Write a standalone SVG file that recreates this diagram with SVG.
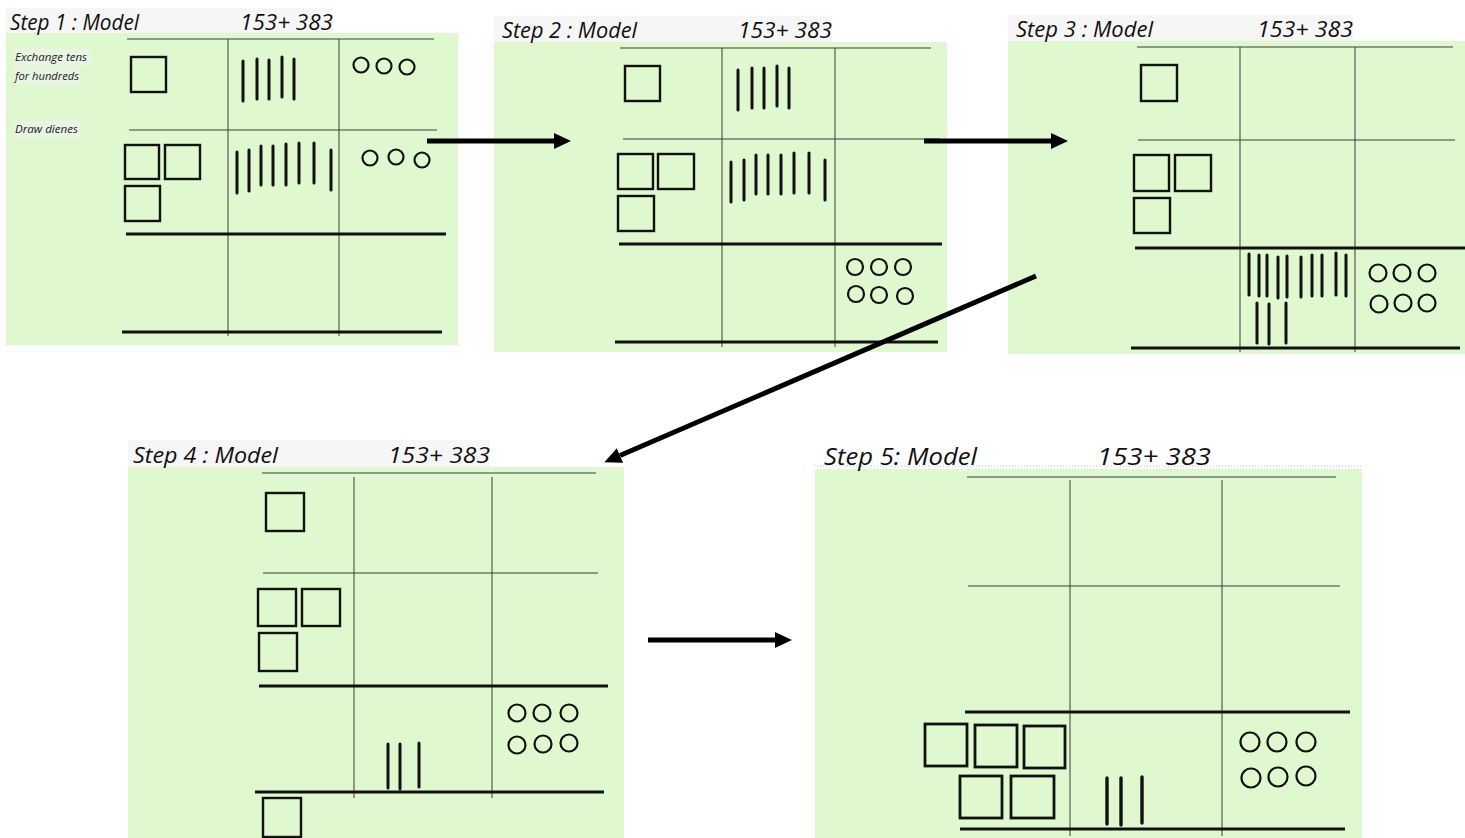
<svg xmlns="http://www.w3.org/2000/svg" width="1465" height="838" viewBox="0 0 1465 838">
<style>
.page{fill:#ffffff}
.bg{fill:#dff8d0}
.strip{fill:#f6f6f6}
.thin{stroke:#3c3c3c;stroke-width:1;fill:none}
.thick{stroke:#111;stroke-width:3;fill:none}
.sq{fill:none;stroke:#111;stroke-width:2.4}
.ten{stroke:#111;stroke-width:3;stroke-linecap:round;fill:none}
.one{fill:none;stroke:#111;stroke-width:2.2}
.title{font-family:"Open Sans","Noto Sans",sans-serif;font-style:italic;font-size:21px;fill:#111}
.title5{font-family:"Open Sans","Noto Sans",sans-serif;font-style:italic;font-weight:500;font-size:24px;fill:#111}
.note{font-family:"Open Sans","Noto Sans",sans-serif;font-style:italic;font-size:10.5px;fill:#222}
.notebg{fill:#e9f4e2}
.arrow{stroke:#000;stroke-width:5;fill:none}
</style>
<defs>
<marker id="head" markerUnits="userSpaceOnUse" markerWidth="18" markerHeight="17" refX="0" refY="8" orient="auto">
<path d="M0,0 L17,8 L0,16 z" fill="#000"/>
</marker>
</defs>
<rect class="page" x="0" y="0" width="1465" height="838"/>

<g id="step1">
<rect class="bg" x="6" y="33" width="452" height="312"/>
<rect class="strip" x="6" y="8" width="327" height="25"/>
<text class="title" x="10" y="30" textLength="129" lengthAdjust="spacingAndGlyphs">Step 1 : Model</text>
<text class="title" x="240" y="30" textLength="93" lengthAdjust="spacingAndGlyphs">153+ 383</text>
<rect class="notebg" x="14" y="49" width="77" height="17"/>
<rect class="notebg" x="14" y="68" width="66" height="17"/>
<rect class="notebg" x="14" y="121" width="66" height="17"/>
<text class="note" x="15" y="61" textLength="72" lengthAdjust="spacingAndGlyphs">Exchange tens</text>
<text class="note" x="15" y="80" textLength="64" lengthAdjust="spacingAndGlyphs">for hundreds</text>
<text class="note" x="15" y="133" textLength="63" lengthAdjust="spacingAndGlyphs">Draw dienes</text>
<path class="thin" d="M127,39H434M129,130H437M228,39V336M339,39V336"/>
<path class="thick" d="M126,234H446M122,332H442"/>
<rect class="sq" x="131" y="57" width="35" height="35"/>
<path class="ten" d="M243,61V101M257,59V99M269,60V99M282,57V97M294,59V99"/>
<circle class="one" cx="361" cy="65" r="7.5"/><circle class="one" cx="384" cy="66" r="7.5"/><circle class="one" cx="407" cy="67" r="7.5"/>
<rect class="sq" x="125" y="145" width="34" height="34"/>
<rect class="sq" x="165" y="145" width="35" height="34"/>
<rect class="sq" x="125" y="186" width="35" height="35"/>
<path class="ten" d="M237,152V193M249,150V191M261,146V185M273,146V185M286,144V185M299,143V183M314,143V183M331,150V190"/>
<circle class="one" cx="370" cy="158" r="7.5"/><circle class="one" cx="396" cy="157" r="7.5"/><circle class="one" cx="422" cy="160" r="7.5"/>
</g>

<g id="step2">
<rect class="bg" x="494" y="42" width="453" height="310"/>
<rect class="strip" x="494" y="16" width="338" height="26"/>
<text class="title" x="502" y="38" textLength="135" lengthAdjust="spacingAndGlyphs">Step 2 : Model</text>
<text class="title" x="738" y="38" textLength="94" lengthAdjust="spacingAndGlyphs">153+ 383</text>
<path class="thin" d="M620,48H931M623,139H940M722,48V347M835,48V347"/>
<path class="thick" d="M619,244H942M615,342H938"/>
<rect class="sq" x="625" y="66" width="35" height="35"/>
<path class="ten" d="M738,70V110M752,68V108M764,68V108M777,66V106M789,68V108"/>
<rect class="sq" x="618" y="154" width="35" height="35"/>
<rect class="sq" x="658" y="154" width="36" height="35"/>
<rect class="sq" x="618" y="196" width="36" height="35"/>
<path class="ten" d="M731,162V202M744,160V200M756,155V194M768,155V194M781,155V194M794,153V193M809,153V193M825,160V200"/>
<circle class="one" cx="855" cy="267" r="8"/><circle class="one" cx="879" cy="267" r="8"/><circle class="one" cx="903" cy="267" r="8"/>
<circle class="one" cx="856" cy="294" r="8"/><circle class="one" cx="879" cy="295" r="8"/><circle class="one" cx="905" cy="296" r="8"/>
</g>

<g id="step3">
<rect class="bg" x="1008" y="41" width="457" height="313"/>
<rect class="strip" x="1008" y="15" width="345" height="26"/>
<text class="title" x="1016" y="37" textLength="137" lengthAdjust="spacingAndGlyphs">Step 3 : Model</text>
<text class="title" x="1257" y="37" textLength="96" lengthAdjust="spacingAndGlyphs">153+ 383</text>
<path class="thin" d="M1137,47H1453M1138,140H1455M1240,47V352M1355,47V352"/>
<path class="thick" d="M1135,248H1465M1131,348H1460"/>
<rect class="sq" x="1141" y="65" width="36" height="36"/>
<rect class="sq" x="1134" y="155" width="35" height="36"/>
<rect class="sq" x="1175" y="155" width="36" height="36"/>
<rect class="sq" x="1134" y="198" width="36" height="35"/>
<path class="ten" d="M1249,254V295M1259,255V296M1267,255V296M1278,257V298M1287,256V297M1301,257V297M1312,255V296M1322,255V296M1336,253V295M1346,255V296"/>
<path class="ten" d="M1257,303V343M1269,304V344M1286,303V343"/>
<circle class="one" cx="1378" cy="273" r="8.5"/><circle class="one" cx="1402" cy="273" r="8.5"/><circle class="one" cx="1427" cy="273" r="8.5"/>
<circle class="one" cx="1379" cy="304" r="8.5"/><circle class="one" cx="1403" cy="303" r="8.5"/><circle class="one" cx="1427" cy="303" r="8.5"/>
</g>

<g id="step4">
<rect class="bg" x="128" y="467" width="496" height="371"/>
<rect class="strip" x="128" y="440" width="362" height="27"/>
<text class="title" x="133" y="463" textLength="145" lengthAdjust="spacingAndGlyphs">Step 4 : Model</text>
<text class="title" x="388" y="463" textLength="102" lengthAdjust="spacingAndGlyphs">153+ 383</text>
<path class="thin" d="M262,473H596M263,573H598M354,477V798M492,477V798"/>
<path class="thick" d="M259,686H608M255,792H604"/>
<rect class="sq" x="266" y="493" width="38" height="38"/>
<rect class="sq" x="258" y="589" width="38" height="37"/>
<rect class="sq" x="302" y="589" width="38" height="37"/>
<rect class="sq" x="259" y="633" width="38" height="38"/>
<path class="ten" d="M388,744V788M400,744V789M419,743V787"/>
<circle class="one" cx="517" cy="713" r="8.5"/><circle class="one" cx="542" cy="713" r="8.5"/><circle class="one" cx="569" cy="713" r="8.5"/>
<circle class="one" cx="517" cy="745" r="8.5"/><circle class="one" cx="543" cy="744" r="8.5"/><circle class="one" cx="569" cy="743" r="8.5"/>
<rect class="sq" x="263" y="798" width="38" height="39"/>
</g>

<g id="step5">
<rect class="bg" x="815" y="469" width="547" height="369"/>
<line x1="814" y1="466" x2="1362" y2="466" stroke="#b4c0ee" stroke-width="1" stroke-dasharray="1,2"/>
<text class="title5" x="824" y="465" textLength="153" lengthAdjust="spacingAndGlyphs">Step 5: Model</text>
<text class="title5" x="1097" y="465" textLength="114" lengthAdjust="spacingAndGlyphs">153+ 383</text>
<path class="thin" d="M967,477H1336M968,586H1340M1070,480V836M1222,480V836"/>
<path class="thick" d="M965,712H1350M960,829H1345"/>
<rect class="sq" x="925" y="724" width="42" height="42" style="stroke-width:2.8"/>
<rect class="sq" x="975" y="725" width="42" height="42" style="stroke-width:2.8"/>
<rect class="sq" x="1024" y="726" width="41" height="42" style="stroke-width:2.8"/>
<rect class="sq" x="960" y="776" width="42" height="42" style="stroke-width:2.8"/>
<rect class="sq" x="1011" y="776" width="43" height="42" style="stroke-width:2.8"/>
<path class="ten" d="M1107,778V824M1121,778V825M1142,777V823" style="stroke-width:3.4"/>
<circle class="one" cx="1250" cy="742" r="9.5"/><circle class="one" cx="1277" cy="742" r="9.5"/><circle class="one" cx="1306" cy="742" r="9.5"/>
<circle class="one" cx="1251" cy="778" r="9.5"/><circle class="one" cx="1278" cy="777" r="9.5"/><circle class="one" cx="1306" cy="776" r="9.5"/>
</g>

<g id="connectors">
<line class="arrow" x1="427" y1="141" x2="554" y2="141" marker-end="url(#head)"/>
<line class="arrow" x1="924" y1="141" x2="1051" y2="141" marker-end="url(#head)"/>
<line class="arrow" x1="1036" y1="276" x2="620" y2="455.5" marker-end="url(#head)"/>
<line class="arrow" x1="648" y1="640" x2="775" y2="640" marker-end="url(#head)"/>
</g>
</svg>
